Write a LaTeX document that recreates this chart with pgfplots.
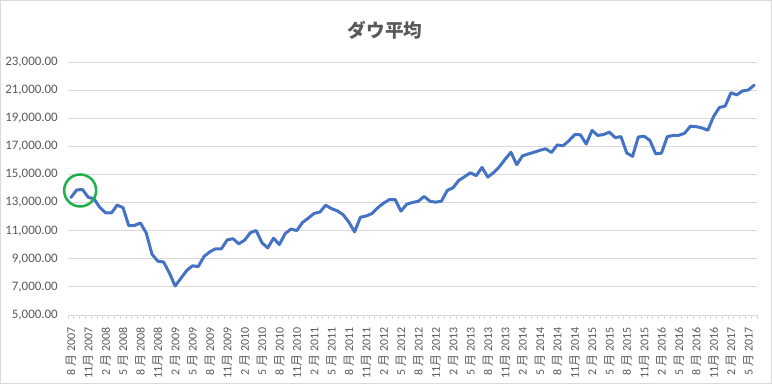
\documentclass[border=0pt]{standalone}
\usepackage{fontspec}
\setmainfont{Carlito}
\newfontfamily\jp{Noto Sans CJK JP}
\usepackage{pgfplots}
\pgfplotsset{compat=1.18}
\definecolor{txt}{HTML}{595959}
\definecolor{gridc}{HTML}{D9D9D9}
\definecolor{linec}{HTML}{4472C4}
\definecolor{circ}{HTML}{1FAF4B}
\newcommand{\M}{{\jp 月}}
\newcommand{\s}{\hspace{0.25em}}
\pgfplotstableread{
i v
0 13357
1 13896
2 13930
3 13372
4 13265
5 12650
6 12266
7 12263
8 12820
9 12638
10 11350
11 11378
12 11544
13 10851
14 9325
15 8829
16 8776
17 8001
18 7063
19 7609
20 8168
21 8500
22 8447
23 9172
24 9496
25 9712
26 9713
27 10345
28 10428
29 10067
30 10325
31 10857
32 11009
33 10137
34 9774
35 10466
36 10015
37 10788
38 11118
39 11006
40 11578
41 11892
42 12226
43 12320
44 12811
45 12570
46 12414
47 12143
48 11614
49 10913
50 11955
51 12046
52 12218
53 12633
54 12952
55 13212
56 13214
57 12393
58 12880
59 13009
60 13091
61 13437
62 13096
63 13026
64 13104
65 13861
66 14054
67 14579
68 14840
69 15116
70 14910
71 15500
72 14810
73 15130
74 15546
75 16086
76 16577
77 15699
78 16322
79 16458
80 16581
81 16717
82 16827
83 16563
84 17098
85 17043
86 17391
87 17828
88 17823
89 17165
90 18133
91 17776
92 17841
93 18011
94 17620
95 17690
96 16528
97 16285
98 17664
99 17720
100 17425
101 16466
102 16517
103 17685
104 17774
105 17787
106 17930
107 18432
108 18401
109 18308
110 18142
111 19124
112 19763
113 19864
114 20812
115 20663
116 20941
117 21009
118 21350
}\dow
\begin{document}
\begin{tikzpicture}[x=1bp,y=1bp]
\draw[gridc, line width=1bp] (0.5,0.5) rectangle (771.5,383.5);
\node[txt, font=\jp\bfseries\fontsize{18.7}{22}\selectfont] at (385,354) {ダウ平均};
\begin{axis}[at={(68bp,69bp)}, anchor=south west, scale only axis,
  width=689bp, height=253bp,
  xmin=-0.5, xmax=118.5, ymin=5000, ymax=23000,
  ytick={5000,7000,...,23000},
  scaled y ticks=false,
  ymajorgrids, grid style={gridc, line width=1bp},
  axis x line*=bottom, axis y line*=left,
  y axis line style={draw=none},
  x axis line style={gridc, line width=1bp, -},
  major y tick style={draw=none},
  xtick={0,3,...,117},
  minor xtick={-0.5,0.5,...,118.5},
  major x tick style={draw=none},
  minor x tick style={gridc, line width=0.8bp},
  xtick align=outside,
  minor tick length=4bp,
  tick label style={txt, font=\fontsize{12}{14}\selectfont},
  yticklabel style={anchor=east, inner sep=0pt, xshift=-10bp, font=\fontsize{13}{15}\selectfont},
  xticklabel style={rotate=90, anchor=east, inner sep=0pt},
  xticklabel shift=8bp,
  /pgf/number format/.cd, fixed, fixed zerofill, precision=2, 1000 sep={,}, assume math mode=true,
  /pgfplots/.cd,
  xticklabels={8\s\M\ 2007, 11\M\ 2007, 2\s\M\ 2008, 5\s\M\ 2008, 8\s\M\ 2008, 11\M\ 2008,
    2\s\M\ 2009, 5\s\M\ 2009, 8\s\M\ 2009, 11\M\ 2009,
    2\s\M\ 2010, 5\s\M\ 2010, 8\s\M\ 2010, 11\M\ 2010,
    2\s\M\ 2011, 5\s\M\ 2011, 8\s\M\ 2011, 11\M\ 2011,
    2\s\M\ 2012, 5\s\M\ 2012, 8\s\M\ 2012, 11\M\ 2012,
    2\s\M\ 2013, 5\s\M\ 2013, 8\s\M\ 2013, 11\M\ 2013,
    2\s\M\ 2014, 5\s\M\ 2014, 8\s\M\ 2014, 11\M\ 2014,
    2\s\M\ 2015, 5\s\M\ 2015, 8\s\M\ 2015, 11\M\ 2015,
    2\s\M\ 2016, 5\s\M\ 2016, 8\s\M\ 2016, 11\M\ 2016,
    2\s\M\ 2017, 5\s\M\ 2017},
  clip=false,
]
\addplot[linec, line width=3bp, line join=round, line cap=round, mark=none] table[x=i, y=v] {\dow};
\node[draw=circ, circle, line width=2.5bp, minimum size=32bp, inner sep=0pt] at (axis cs:1.6,13860) {};
\end{axis}
\end{tikzpicture}
\end{document}
